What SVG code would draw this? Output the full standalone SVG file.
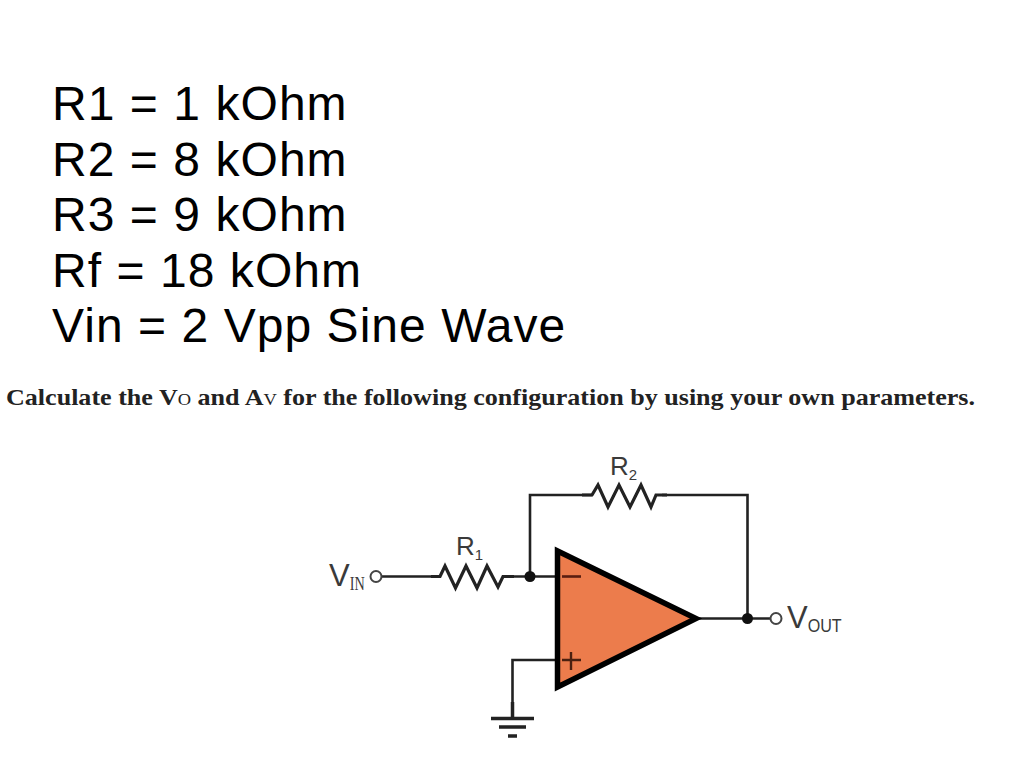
<svg xmlns="http://www.w3.org/2000/svg" width="1024" height="773" viewBox="0 0 1024 773">
<style>
.big{font-family:"Liberation Sans",Arial,sans-serif;font-size:48px;letter-spacing:1.050px;fill:#000}
.q{font-family:"Liberation Serif","Times New Roman",serif;font-size:24px;font-weight:bold;fill:#222}
.lab{font-family:"Liberation Sans",Arial,sans-serif;fill:#3a3a3a}
.sub{font-family:"Liberation Serif","Times New Roman",serif}
.w{fill:none;stroke:#222;stroke-width:2.6;stroke-linejoin:miter}
.r{fill:none;stroke:#222;stroke-width:3.2}
.dot{fill:#111}
.term{fill:#fff;stroke:#444;stroke-width:2}
</style>
<rect width="1024" height="773" fill="#fff"/>
<g id="values">
<text class="big" x="52" y="120">R1 = 1 kOhm</text>
<text class="big" x="52" y="176">R2 = 8 kOhm</text>
<text class="big" x="52" y="231">R3 = 9 kOhm</text>
<text class="big" x="52" y="287">Rf = 18 kOhm</text>
<text class="big" x="52" y="342">Vin = 2 Vpp Sine Wave</text>
</g>
<text class="q" x="6" y="405" textLength="969" lengthAdjust="spacingAndGlyphs">Calculate the V<tspan font-size="17" font-weight="normal">O</tspan> and A<tspan font-size="17" font-weight="normal">V</tspan> for the following configuration by using your own parameters.</text>
<g id="connectors">
<path class="w" d="M382 576.500H431M514 576.500H558"/>
<path class="w" d="M530 576.500V495H592M662 495H747.500V618"/>
<path class="w" d="M696 618.500H771"/>
<path class="w" d="M558 660H512.500V702"/>
<path d="M512.500 702V718" stroke="#222" stroke-width="3.500" fill="none"/>
</g>
<g id="opamp">
<path d="M557.500 551V687L696 618.500Z" fill="#ec7c4c" stroke="#000" stroke-width="5.500" stroke-linejoin="miter"/>
<path d="M562 576.500H581" stroke="#5a1d10" stroke-width="2.600" fill="none"/>
<path d="M562 660H581M571 652V670" stroke="#4a2010" stroke-width="2.400" fill="none"/>
</g>
<g id="R1">
<path class="r" d="M431 576.500H440L445 566 455.500 588 466 566 477 588 487 566 498 587 503 576.500H514"/>
<text class="lab" x="456" y="555" font-size="26">R<tspan font-size="15" dy="5">1</tspan></text>
</g>
<g id="R2">
<path class="r" d="M582 495H592L598 485 608 507 619 485 630 507 641 485 651 507 656 495H667"/>
<text class="lab" x="610" y="475" font-size="26">R<tspan font-size="15" dy="5">2</tspan></text>
</g>
<g id="junction-inverting"><circle class="dot" cx="530" cy="576.500" r="5.500"/></g>
<g id="junction-output"><circle class="dot" cx="747.500" cy="618.500" r="5.500"/></g>
<g id="vin">
<circle class="term" cx="376" cy="576.500" r="5.500"/>
<text class="lab" x="329" y="586" font-size="31">V<tspan class="sub" font-size="18" dy="4" textLength="15" lengthAdjust="spacingAndGlyphs">IN</tspan></text>
</g>
<g id="vout">
<circle class="term" cx="776" cy="618.500" r="5.500"/>
<text class="lab" x="787" y="628" font-size="31">V<tspan font-size="19" dy="4" textLength="34" lengthAdjust="spacingAndGlyphs">OUT</tspan></text>
</g>
<g id="ground">
<path d="M491 718.500H534M499 727H526M508 736H517" stroke="#222" stroke-width="3.500" fill="none"/>
</g>
</svg>
